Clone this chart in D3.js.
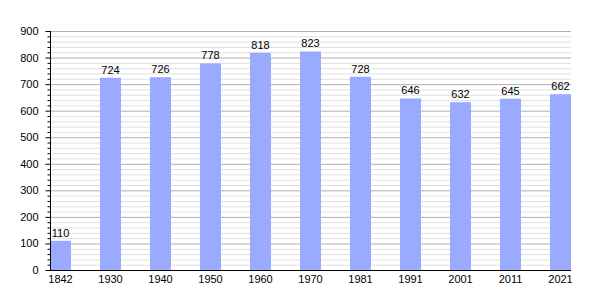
<!DOCTYPE html>
<html><head><meta charset="utf-8">
<script src="https://cdn.jsdelivr.net/npm/d3@7"></script>
<style>body{margin:0;background:#fff}svg{display:block}text{font-family:"Liberation Sans",Arial,sans-serif}</style>
</head><body><svg id="c" width="600" height="300"></svg>
<script>
const years = ["1842","1930","1940","1950","1960","1970","1981","1991","2001","2011","2021"];
const population = [110,724,726,778,818,823,728,646,632,645,662];
const yTicks = [0,100,200,300,400,500,600,700,800,900];

const svg = d3.select("#c");
const x = d3.scaleBand().domain(years).range([50,571]).paddingInner(0.58).paddingOuter(0).align(0);
const y = d3.scaleLinear().domain([0,900]).range([270,31]);

const minor = d3.range(0,901,20).filter(v => v%100!==0);
svg.append("g").selectAll("line").data(minor).join("line")
  .attr("x1",50).attr("x2",571).attr("y1",d=>y(d)+0.5).attr("y2",d=>y(d)+0.5)
  .attr("stroke","#e0e0e0").attr("stroke-width",1);
svg.append("g").selectAll("line").data(yTicks.slice(1)).join("line")
  .attr("x1",50).attr("x2",571).attr("y1",d=>y(d)+0.5).attr("y2",d=>y(d)+0.5)
  .attr("stroke","#b0b0b0").attr("stroke-width",1);

svg.append("g").selectAll("rect").data(population).join("rect")
  .attr("x",(d,i)=>x(years[i])).attr("width",x.bandwidth())
  .attr("y",d=>y(d)).attr("height",d=>y(0)-y(d)).attr("fill","#99aaff");

svg.append("g").selectAll("text").data(population).join("text")
  .attr("x",(d,i)=>x(years[i])+x.bandwidth()/2).attr("y",d=>y(d)-4)
  .attr("text-anchor","middle").attr("font-size",11).attr("fill","#000").text(d=>d);

// y axis
const ya = svg.append("g").attr("transform","translate(50.5,0)")
  .call(d3.axisLeft(y).tickValues(yTicks).tickSize(5).tickPadding(7));
ya.select(".domain").remove();
ya.selectAll("text").attr("font-size",11).attr("fill","#000").attr("font-family","Liberation Sans, Arial, sans-serif");
ya.selectAll("line").attr("stroke","#000");
svg.append("g").attr("transform","translate(50.5,0)")
  .call(d3.axisLeft(y).tickValues(minor).tickSize(3).tickFormat(""))
  .call(g=>g.select(".domain").remove())
  .selectAll("line").attr("stroke","#000");
svg.append("line").attr("x1",50.5).attr("x2",50.5).attr("y1",31).attr("y2",271).attr("stroke","#000");

// x axis
const xa = svg.append("g").attr("transform","translate(0,270.5)")
  .call(d3.axisBottom(x).tickSize(0).tickPadding(5));
xa.select(".domain").remove();
xa.selectAll("text").attr("font-size",11).attr("fill","#000").attr("font-family","Liberation Sans, Arial, sans-serif");
svg.append("line").attr("x1",50).attr("x2",571).attr("y1",270.5).attr("y2",270.5).attr("stroke","#000");
</script></body></html>
